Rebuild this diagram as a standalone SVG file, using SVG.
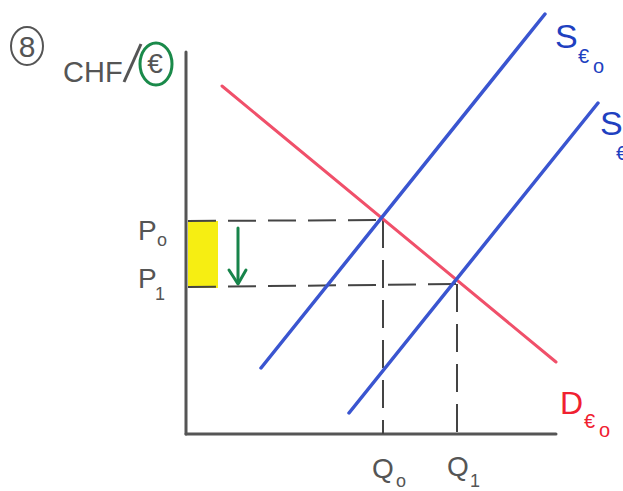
<svg xmlns="http://www.w3.org/2000/svg" width="623" height="491" viewBox="0 0 623 491">
<style>
.axis{stroke:#555;stroke-width:3;fill:none;stroke-linecap:round}
.dash{stroke:#444;stroke-width:2;fill:none;stroke-dasharray:28 12}
.sup{stroke:#3a55d0;stroke-width:3.5;fill:none;stroke-linecap:round}
.dem{stroke:#f0506a;stroke-width:3;fill:none;stroke-linecap:round}
.lbl{font-family:"Liberation Sans",Arial,sans-serif;fill:#555}
.blue{font-family:"Liberation Sans",Arial,sans-serif;fill:#2040c0}
.red{font-family:"Liberation Sans",Arial,sans-serif;fill:#f02030}
</style>
<rect width="623" height="491" fill="#fff"/>
<g id="header">
  <ellipse cx="27" cy="46" rx="16" ry="19" fill="none" stroke="#555" stroke-width="2"/>
  <text class="lbl" x="27" y="57" font-size="30" text-anchor="middle">8</text>
  <text class="lbl" x="63" y="82" font-size="29">CHF</text>
  <line x1="124" y1="82" x2="141" y2="44" stroke="#555" stroke-width="3"/>
  <text class="lbl" x="155" y="73" font-size="28" text-anchor="middle">€</text>
  <ellipse cx="156" cy="64" rx="16" ry="21" fill="none" stroke="#1a8a4a" stroke-width="3"/>
</g>
<g id="axes">
  <line class="axis" x1="186" y1="52" x2="186" y2="434"/>
  <line class="axis" x1="186" y1="434" x2="556" y2="434"/>
</g>
<g id="highlight">
  <rect x="188" y="221" width="30" height="67" fill="#f6ee12"/>
  <line x1="238" y1="228" x2="238" y2="283" stroke="#17844a" stroke-width="3" stroke-linecap="round"/>
  <polyline points="229,270 238,284 246,270" fill="none" stroke="#17844a" stroke-width="3" stroke-linecap="round" stroke-linejoin="round"/>
</g>
<g id="connectors">
  <line class="dash" x1="188" y1="221" x2="383" y2="220"/>
  <line class="dash" x1="383" y1="220" x2="383" y2="434" stroke-dasharray="60 10"/>
  <line class="dash" x1="188" y1="287" x2="456" y2="284"/>
  <line class="dash" x1="457" y1="284" x2="457" y2="434" stroke-dasharray="55 10"/>
</g>
<g id="demand">
  <line class="dem" x1="222" y1="86" x2="556" y2="362"/>
  <text class="red" x="560" y="414" font-size="32">D</text>
  <text class="red" x="584" y="428" font-size="20">€</text>
  <text class="red" x="599" y="437" font-size="20">o</text>
</g>
<g id="supply0">
  <line class="sup" x1="261" y1="368" x2="545" y2="14"/>
  <text class="blue" x="555" y="48" font-size="34">S</text>
  <text class="blue" x="578" y="63" font-size="20">€</text>
  <text class="blue" x="593" y="73" font-size="20">o</text>
</g>
<g id="supply1">
  <line class="sup" x1="349" y1="413" x2="598" y2="103"/>
  <text class="blue" x="600" y="135" font-size="34">S</text>
  <text class="blue" x="616" y="160" font-size="20">€</text>
</g>
<g id="labels">
  <text class="lbl" x="138" y="240" font-size="28">P</text>
  <text class="lbl" x="157" y="246" font-size="18">o</text>
  <text class="lbl" x="138" y="288" font-size="28">P</text>
  <text class="lbl" x="155" y="300" font-size="18">1</text>
  <text class="lbl" x="372" y="478" font-size="28">Q</text>
  <text class="lbl" x="396" y="487" font-size="18">o</text>
  <text class="lbl" x="447" y="476" font-size="28">Q</text>
  <text class="lbl" x="470" y="487" font-size="18">1</text>
</g>
</svg>
